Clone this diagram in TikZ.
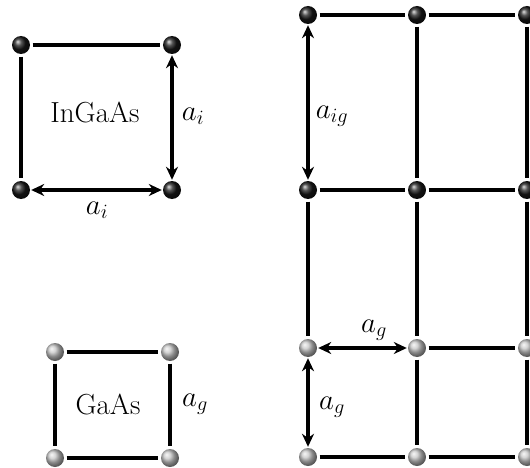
\documentclass[tikz,border=0pt]{standalone}
\usepackage{fix-cm}
\usetikzlibrary{arrows.meta}
\tikzset{
  atom/.style={circle,inner sep=0pt,minimum size=18pt},
  blackatom/.style={atom,ball color=black!90!white},
  grayatom/.style={atom,ball color=gray!45},
  bond/.style={line width=3.2pt,shorten <=2.5pt,shorten >=2.5pt},
  dim/.style={line width=3.2pt,{Stealth[length=13pt,width=12pt]}-{Stealth[length=13pt,width=12pt]},shorten <=1pt,shorten >=1pt},
  lbl/.style={font=\fontsize{29}{34}\selectfont,inner sep=0pt},
}
\begin{document}
\begin{tikzpicture}[x=1pt,y=-1pt]
\useasboundingbox (0,0) rectangle (530,468);
\clip (0,0) rectangle (530,468);
% InGaAs cell
\node[blackatom] (a1) at (21,45) {};
\node[blackatom] (a2) at (172,45) {};
\node[blackatom] (a3) at (21,190) {};
\node[blackatom] (a4) at (172,190) {};
\draw[bond] (a1) -- (a2);
\draw[bond] (a1) -- (a3);
\draw[dim] (a2) -- (a4);
\draw[dim] (a3) -- (a4);
\node[lbl] (tI) at (95,112) {InGaAs};
\node[lbl] (lI1) at (193,116) {$a_i$};
\node[lbl] (lI2) at (97,210) {$a_i$};
% GaAs cell
\node[grayatom] (g1) at (55,352) {};
\node[grayatom] (g2) at (170,352) {};
\node[grayatom] (g3) at (55,458) {};
\node[grayatom] (g4) at (170,458) {};
\draw[bond] (g1) -- (g2);
\draw[bond] (g1) -- (g3);
\draw[bond] (g2) -- (g4);
\draw[bond] (g3) -- (g4);
\node[lbl] (tG) at (108,404) {GaAs};
\node[lbl] (lG) at (195,404) {$a_g$};
% grid
\foreach \c/\x in {1/308,2/417,3/527}{
  \node[blackatom] (r1c\c) at (\x,15) {};
  \node[blackatom] (r2c\c) at (\x,190) {};
  \node[grayatom] (r3c\c) at (\x,348) {};
  \node[grayatom] (r4c\c) at (\x,457) {};
}
% horizontal bonds
\draw[bond] (r1c1) -- (r1c2);
\draw[bond] (r1c2) -- (r1c3);
\draw[bond] (r2c1) -- (r2c2);
\draw[bond] (r2c2) -- (r2c3);
\draw[dim] (r3c1) -- (r3c2);
\draw[bond] (r3c2) -- (r3c3);
\draw[bond] (r4c1) -- (r4c2);
\draw[bond] (r4c2) -- (r4c3);
% vertical bonds
\draw[dim] (r1c1) -- (r2c1);
\draw[bond] (r2c1) -- (r3c1);
\draw[dim] (r3c1) -- (r4c1);
\foreach \c in {2,3}{
  \draw[bond] (r1c\c) -- (r2c\c);
  \draw[bond] (r2c\c) -- (r3c\c);
  \draw[bond] (r3c\c) -- (r4c\c);
}
\node[lbl] (lig) at (332,116) {$a_{ig}$};
\node[lbl] (lgh) at (374,330) {$a_g$};
\node[lbl] (lgv) at (332,407) {$a_g$};
\end{tikzpicture}
\end{document}
